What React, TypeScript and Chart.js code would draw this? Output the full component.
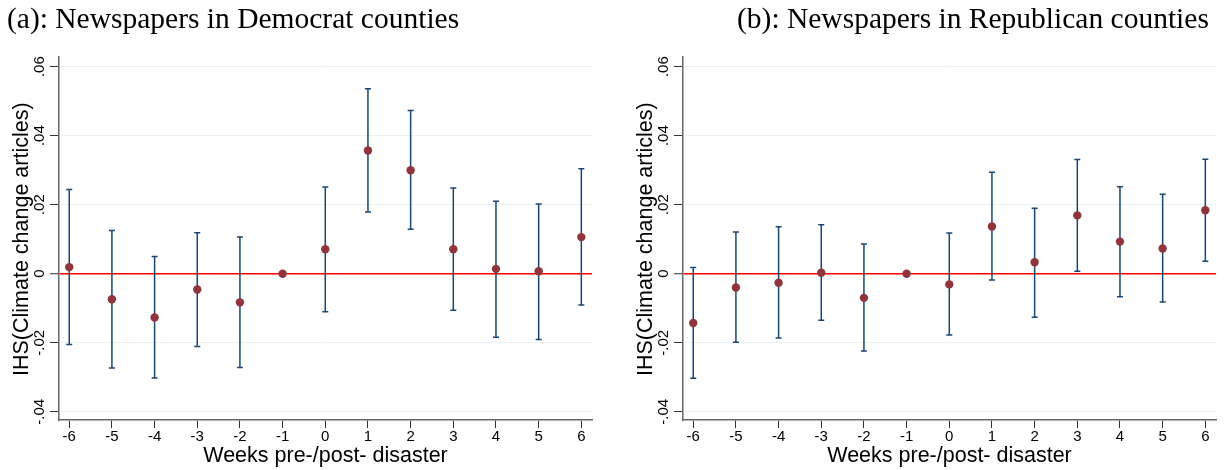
import React, { useEffect, useRef } from "react";
import { Chart, registerables } from "chart.js";

Chart.register(...registerables);

const weeks = [-6, -5, -4, -3, -2, -1, 0, 1, 2, 3, 4, 5, 6];

const demEst = [0.0019, -0.0074, -0.0127, -0.0046, -0.0083, 0, 0.0071, 0.0357, 0.03, 0.0071, 0.0014, 0.0007, 0.0106];
const demUpper = [0.0244, 0.0125, 0.005, 0.0119, 0.0106, null, 0.0251, 0.0536, 0.0473, 0.0248, 0.021, 0.0202, 0.0304];
const demLower = [-0.0205, -0.0273, -0.0302, -0.0211, -0.0272, null, -0.011, 0.0179, 0.0129, -0.0106, -0.0184, -0.0191, -0.0091];

const repEst = [-0.0143, -0.004, -0.0026, 0.0003, -0.007, 0, -0.0031, 0.0137, 0.0033, 0.0169, 0.0093, 0.0073, 0.0184];
const repUpper = [0.0018, 0.0121, 0.0136, 0.0142, 0.0086, null, 0.0118, 0.0294, 0.019, 0.0331, 0.0252, 0.023, 0.0332];
const repLower = [-0.0303, -0.0199, -0.0186, -0.0135, -0.0224, null, -0.0178, -0.0018, -0.0126, 0.0007, -0.0067, -0.0082, 0.0036];

const yTicks = [-0.04, -0.02, 0, 0.02, 0.04, 0.06];
const yTickLabels = ["-.04", "-.02", "0", ".02", ".04", ".06"];

const titleA = "(a): Newspapers in Democrat counties";
const titleB = "(b): Newspapers in Republican counties";
const xTitle = "Weeks pre-/post- disaster";
const yTitle = "IHS(Climate change articles)";

const NAVY = "#1a476f";
const MAROON = "#90353b";
const SANS = "'Liberation Sans', Arial, sans-serif";

function makeErrorPlugin(lower: (number | null)[], upper: (number | null)[]) {
  return {
    id: "errbars",
    beforeDatasetsDraw(chart: any) {
      const { ctx } = chart;
      const xs = chart.scales.x;
      const ys = chart.scales.y;
      ctx.save();
      ctx.strokeStyle = NAVY;
      ctx.lineWidth = 1.5;
      weeks.forEach((w, i) => {
        const lo = lower[i];
        const hi = upper[i];
        if (lo == null || hi == null) return;
        const px = xs.getPixelForValue(w);
        const pl = ys.getPixelForValue(lo);
        const ph = ys.getPixelForValue(hi);
        ctx.beginPath();
        ctx.moveTo(px, pl);
        ctx.lineTo(px, ph);
        ctx.moveTo(px - 3, pl);
        ctx.lineTo(px + 3, pl);
        ctx.moveTo(px - 3, ph);
        ctx.lineTo(px + 3, ph);
        ctx.stroke();
      });
      ctx.restore();
    },
  };
}

const textPlugin = {
  id: "texts",
  afterDraw(chart: any) {
    const { ctx, chartArea } = chart;
    const ys = chart.scales.y;
    ctx.save();
    ctx.fillStyle = "#000";
    ctx.font = `15px ${SANS}`;
    ctx.textAlign = "center";
    ctx.textBaseline = "middle";
    yTicks.forEach((v, i) => {
      const py = ys.getPixelForValue(v);
      ctx.save();
      ctx.translate(chartArea.left - 19, py);
      ctx.rotate(-Math.PI / 2);
      ctx.fillText(yTickLabels[i], 0, 0);
      ctx.restore();
    });
    ctx.font = `21.5px ${SANS}`;
    ctx.save();
    ctx.translate(chartArea.left - 37, (ys.getPixelForValue(0.06) + ys.getPixelForValue(-0.04)) / 2);
    ctx.rotate(-Math.PI / 2);
    ctx.fillText(yTitle, 0, 0);
    ctx.restore();
    ctx.fillText(xTitle, (chartArea.left + chartArea.right) / 2, chartArea.bottom + 36);
    ctx.restore();
  },
};

function Panel(props: {
  est: number[];
  lower: (number | null)[];
  upper: (number | null)[];
  yAxisWidth: number;
  padRight: number;
}) {
  const ref = useRef<HTMLCanvasElement>(null);
  useEffect(() => {
    if (!ref.current) return;
    const chart = new Chart(ref.current, {
      type: "scatter",
      data: {
        datasets: [
          {
            data: weeks.map((w, i) => ({ x: w, y: props.est[i] })),
            backgroundColor: MAROON,
            borderColor: MAROON,
            pointRadius: 4.2,
            pointHoverRadius: 4.2,
            borderWidth: 0,
          },
        ],
      },
      options: {
        animation: false,
        responsive: false,
        events: [],
        layout: { padding: { top: 57, right: props.padRight, left: 0, bottom: 0 } },
        plugins: { legend: { display: false }, tooltip: { enabled: false } },
        scales: {
          x: {
            type: "linear",
            min: -6.24,
            max: 6.25,
            afterBuildTicks: (s: any) => {
              s.ticks = weeks.map((v) => ({ value: v }));
            },
            afterFit: (s: any) => {
              s.height = 50;
            },
            ticks: {
              callback: (v: any) => String(v),
              font: { size: 15, family: SANS },
              color: "#000",
              padding: 0,
              maxRotation: 0,
              autoSkip: false,
            },
            grid: { drawOnChartArea: false, tickLength: 8, color: "#333", tickWidth: 1 },
            border: { color: "#666", width: 1.5 },
          },
          y: {
            type: "linear",
            min: -0.0424,
            max: 0.0628,
            afterBuildTicks: (s: any) => {
              s.ticks = yTicks.map((v) => ({ value: v }));
            },
            afterFit: (s: any) => {
              s.width = props.yAxisWidth;
            },
            ticks: { callback: () => "", padding: 0 },
            grid: {
              color: (c: any) => (c.tick && Math.abs(c.tick.value) < 1e-9 ? "#ff0000" : "#eaf2f3"),
              lineWidth: (c: any) => (c.tick && Math.abs(c.tick.value) < 1e-9 ? 1.5 : 1),
              tickColor: "#333",
              tickLength: 9,
              tickWidth: 1,
            },
            border: { color: "#666", width: 1.5 },
          },
        },
      },
      plugins: [makeErrorPlugin(props.lower, props.upper), textPlugin],
    });
    return () => chart.destroy();
  }, []);
  return <canvas ref={ref} width={612} height={470} style={{ width: 612, height: 470, display: "block" }} />;
}

const titleStyle: React.CSSProperties = {
  position: "absolute",
  top: 4,
  fontFamily: "'Liberation Serif', 'Times New Roman', serif",
  fontSize: 29.5,
  lineHeight: "29px",
  whiteSpace: "nowrap",
  color: "#000",
};

export default function App() {
  return (
    <div style={{ position: "absolute", left: 0, top: 0, width: 1225, height: 470, background: "#fff", overflow: "hidden" }}>
      <div style={{ position: "absolute", left: 0, top: 0 }}>
        <Panel est={demEst} lower={demLower} upper={demUpper} yAxisWidth={59} padRight={20} />
      </div>
      <div style={{ position: "absolute", left: 613, top: 0 }}>
        <Panel est={repEst} lower={repLower} upper={repUpper} yAxisWidth={70} padRight={9} />
      </div>
      <div style={{ ...titleStyle, left: 7 }}>{titleA}</div>
      <div style={{ ...titleStyle, left: 737 }}>{titleB}</div>
    </div>
  );
}
